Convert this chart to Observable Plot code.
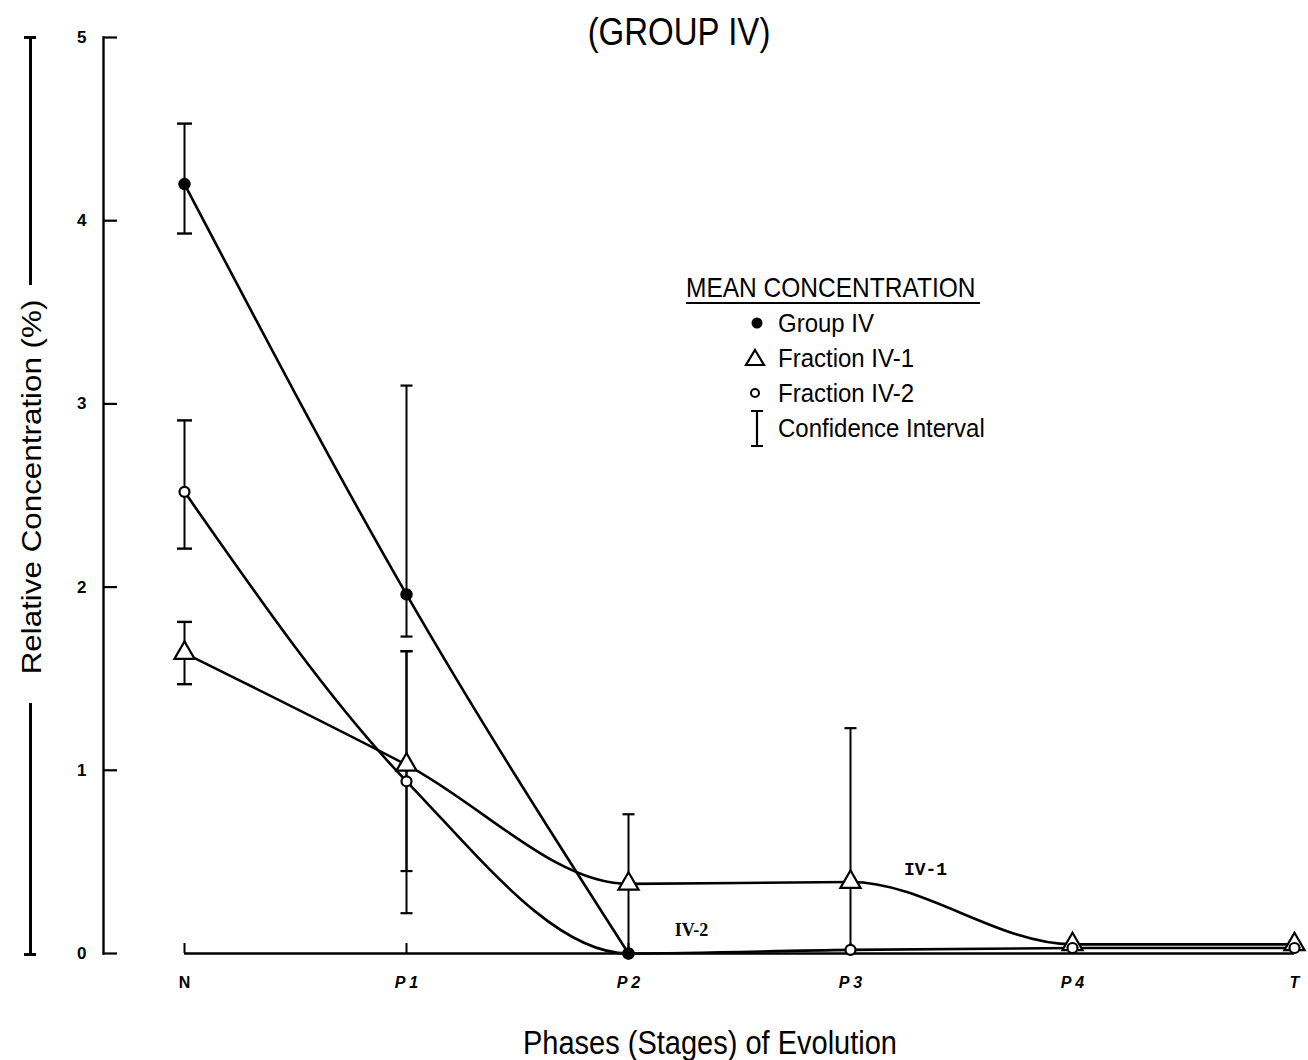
<!DOCTYPE html>
<html><head><meta charset="utf-8">
<script src="https://cdn.jsdelivr.net/npm/d3@7"></script>
<script src="https://cdn.jsdelivr.net/npm/@observablehq/plot@0.6"></script>
<style>
html,body{margin:0;padding:0;background:#fff;}
#wrap{position:relative;width:1308px;height:1060px;overflow:hidden;font-family:"Liberation Sans",Arial,Helvetica,sans-serif;color:#000;}
.t{position:absolute;white-space:nowrap;line-height:1;}
.bar{position:absolute;background:#000;}
</style></head><body><div id="wrap"></div>
<script>
// ---- data ----
const stages = ["N","P1","P2","P3","P4","T"];
const stageLabels = {N:"N",P1:"P 1",P2:"P 2",P3:"P 3",P4:"P 4",T:"T"};
const groupIV     = [4.20, 1.96, 0.00, null, null, null];
const fractionIV1 = [1.64, 1.03, 0.38, 0.39, 0.05, 0.05];
const fractionIV2 = [2.52, 0.94, 0.00, 0.02, 0.03, 0.03];
// confidence intervals
const ciStage = ["N",  "N",  "N",  "P1", "P1", "P1", "P2", "P3"];
const ciLow   = [3.93, 2.21, 1.47, 1.73, 0.45, 0.22, 0.00, 0.02];
const ciHigh  = [4.53, 2.91, 1.81, 3.10, 1.65, 1.65, 0.76, 1.23];
const yTicks = [0, 1, 2, 3, 4, 5];
const title = "(GROUP IV)";
const xTitle = "Phases (Stages) of Evolution";
const yTitle = "Relative Concentration (%)";
const legendTitle = "MEAN CONCENTRATION";
const legendItems = ["Group IV", "Fraction IV-1", "Fraction IV-2", "Confidence Interval"];

// ---- tables ----
function rowsOf(values, series){
  const out = [];
  values.forEach((v,i)=>{ if(v!=null) out.push({stage: stages[i], value: v, series}); });
  return out;
}
const rGroup = rowsOf(groupIV, "Group IV");
const rIV1 = rowsOf(fractionIV1, "Fraction IV-1");
const rIV2 = rowsOf(fractionIV2, "Fraction IV-2");
const allRows = [...rGroup, ...rIV1, ...rIV2];
const ci = ciStage.map((s,i)=>({stage: s, low: ciLow[i], high: ciHigh[i]}));
const capsN = [], capsOther = [];
ci.forEach(d=>{
  const target = d.stage === "N" ? capsN : capsOther;
  target.push({stage: d.stage, y: d.high});
  if (d.low > 0.1) target.push({stage: d.stage, y: d.low});
});
const hbar = {draw(ctx, size){ const r = Math.sqrt(size/Math.PI); ctx.moveTo(-r,0); ctx.lineTo(r,0); }};

const chart = Plot.plot({
  width: 1308, height: 1060,
  marginTop: 37, marginBottom: 107, marginLeft: 103, marginRight: 13,
  style: {background: "white", fontFamily: "'Liberation Sans', Arial, sans-serif", color: "black"},
  x: {type: "point", domain: stages, range: [182, 1295], padding: 0},
  y: {domain: [0, 5]},
  marks: [
    Plot.frame({anchor: "left", strokeWidth: 2.4}),
    Plot.ruleY([0], {x1: () => stages[0], x2: () => stages[stages.length-1], strokeWidth: 2.4}),
    Plot.axisY({ticks: yTicks, tickSize: -14, tickPadding: 31, strokeWidth: 2.2, fontSize: 17, fontWeight: "bold", label: null, tickFormat: d => String(d)}),
    Plot.axisX({ticks: ["N"], tickSize: -10, tickPadding: 33, strokeWidth: 2, fontSize: 16, fontWeight: "bold", label: null, tickFormat: d => stageLabels[d]}),
    Plot.axisX({ticks: stages.slice(1), tickSize: -10, tickPadding: 33, strokeWidth: 2, fontSize: 16, fontWeight: "bold", fontStyle: "italic", label: null, tickFormat: d => stageLabels[d]}),
    Plot.ruleX(ci, {x: "stage", y1: "low", y2: "high", strokeWidth: 2}),
    Plot.dot(capsN, {x: "stage", y: "y", symbol: hbar, r: 7.5, stroke: "black", fill: "none", strokeWidth: 2.4}),
    Plot.dot(capsOther, {x: "stage", y: "y", symbol: hbar, r: 6, stroke: "black", fill: "none", strokeWidth: 2.2}),
    Plot.line(allRows, {x: "stage", y: "value", z: "series", curve: "monotone-x", strokeWidth: 2.6, stroke: "black"}),
    Plot.dot(rIV1, {x: "stage", y: "value", symbol: "triangle", r: 7.5, stroke: "black", fill: "white", strokeWidth: 2.2}),
    Plot.dot(rIV2, {x: "stage", y: "value", r: 5, stroke: "black", fill: "white", strokeWidth: 2.2}),
    Plot.dot(rGroup, {x: "stage", y: "value", r: 5.5, fill: "black", stroke: "black"}),
    Plot.text(["IV-1"], {x: () => "P3", y: () => 0.46, dx: 75, fontSize: 18, fontWeight: "bold", fontFamily: "'Liberation Mono', monospace", letterSpacing: "3px"}),
    Plot.text(["IV-2"], {x: () => "P2", y: () => 0.125, dx: 63, fontSize: 18, fontWeight: "bold", fontFamily: "'Liberation Serif', serif", letterSpacing: "2px"})
  ]
});
const wrap = document.getElementById("wrap");
wrap.appendChild(chart);

function addText(txt, css){
  const d = document.createElement("div");
  d.className = "t"; d.textContent = txt; d.style.cssText += css;
  wrap.appendChild(d); return d;
}
function addBar(l,t,w,h){
  const d = document.createElement("div"); d.className = "bar";
  d.style.left = l+"px"; d.style.top = t+"px"; d.style.width = w+"px"; d.style.height = h+"px";
  wrap.appendChild(d);
}
addText(title, "left:679px;top:32px;font-size:33px;transform:translate(-50%,-50%) scaleY(1.15);");
addText(xTitle, "left:710px;top:1043px;font-size:29px;transform:translate(-50%,-50%) scaleY(1.15);");
addText(yTitle, "left:32px;top:487px;font-size:28px;transform:translate(-50%,-50%) rotate(-90deg) scaleX(1.12);");
// y title rule lines
addBar(29, 37, 2.5, 248); addBar(24, 36, 12, 2.5);
addBar(29, 703, 2.5, 252); addBar(24, 953, 12, 2.5);

// legend
addText(legendTitle, "left:686px;top:288px;font-size:24.5px;transform:translateY(-50%) scaleY(1.1);");
addBar(686, 302, 294, 2);
const ly = [323, 358, 393, 428];
legendItems.forEach((s,i)=> addText(s, `left:778px;top:${ly[i]}px;font-size:24px;transform:translateY(-50%) scaleY(1.1);`));
const ns = "http://www.w3.org/2000/svg";
const lsvg = document.createElementNS(ns, "svg");
lsvg.setAttribute("width", 60); lsvg.setAttribute("height", 180);
lsvg.style.cssText = "position:absolute;left:730px;top:300px;";
lsvg.innerHTML = `
 <circle cx="27" cy="23" r="5.5" fill="black"/>
 <path d="M25,50 L34,65 L16,65 Z" fill="none" stroke="black" stroke-width="2.2"/>
 <circle cx="25" cy="93" r="4" fill="white" stroke="black" stroke-width="2"/>
 <path d="M21,111 H33 M27,111 V146 M21,146 H33" fill="none" stroke="black" stroke-width="2.2"/>`;
wrap.appendChild(lsvg);
</script></body></html>
